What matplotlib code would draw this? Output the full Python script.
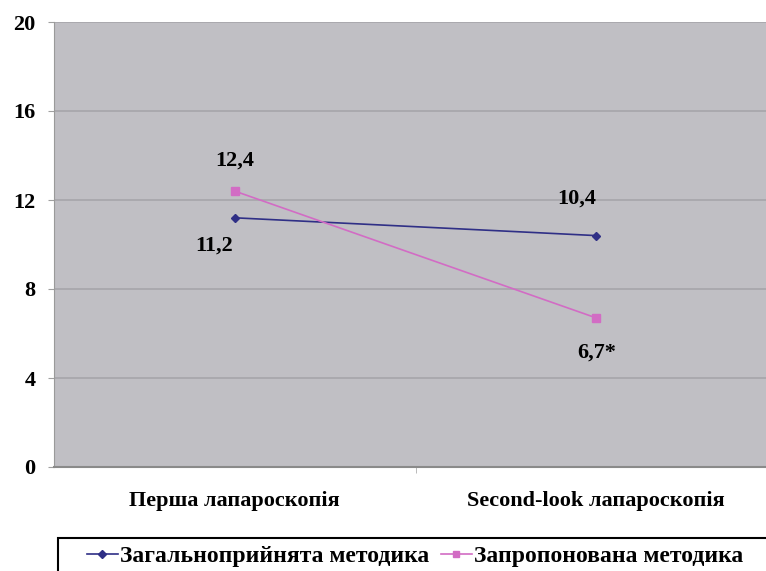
import matplotlib
matplotlib.use("Agg")
import matplotlib.pyplot as plt
from matplotlib.patches import Rectangle

categories = ["Перша лапароскопія", "Second-look лапароскопія"]
standard = [11.2, 10.4]
proposed = [12.4, 6.7]
standard_labels = ["11,2", "10,4"]
proposed_labels = ["12,4", "6,7*"]
series_names = ["Загальноприйнята методика", "Запропонована методика"]
y_ticks = [0, 4, 8, 12, 16, 20]

plt.rcParams["font.family"] = ["Liberation Serif", "DejaVu Serif"]
plt.rcParams["font.weight"] = "bold"

W, H = 766, 571
fig = plt.figure(figsize=(W / 100, H / 100), dpi=100)
ax = fig.add_axes([54 / W, (H - 467) / H, 723 / W, (467 - 22) / H])
ax.set_facecolor("#c0bfc4")

x = list(range(len(categories)))
ax.set_xlim(-0.5, len(categories) - 0.5)
ax.set_ylim(0, 20)

for t in y_ticks[1:]:
    ax.axhline(t, color="#a6a5aa", lw=1.2, zorder=1)

blue = "#2f2f86"
pink = "#d26cc4"
l1, = ax.plot(x, standard, color=blue, lw=1.2, marker="D", ms=4, zorder=3,
              label=series_names[0])
l2, = ax.plot(x, proposed, color=pink, lw=1.2, marker="s", ms=5.5, zorder=3,
              label=series_names[1])

fs = 16
# value labels next to each point
ax.annotate(proposed_labels[0], (x[0], proposed[0]), xytext=(0, 22),
            textcoords="offset points", ha="center", va="center",
            fontsize=fs, fontweight="bold")
ax.annotate(standard_labels[0], (x[0], standard[0]), xytext=(-15, -20),
            textcoords="offset points", ha="center", va="center",
            fontsize=fs, fontweight="bold")
ax.annotate(standard_labels[1], (x[1], standard[1]), xytext=(-14, 27),
            textcoords="offset points", ha="center", va="center",
            fontsize=fs, fontweight="bold")
ax.annotate(proposed_labels[1], (x[1], proposed[1]), xytext=(0, -25),
            textcoords="offset points", ha="center", va="center",
            fontsize=fs, fontweight="bold")

ax.set_yticks(y_ticks)
ax.set_yticklabels([str(t) for t in y_ticks], fontsize=fs, fontweight="bold")
ax.set_xticks(x)
ax.set_xticklabels(categories, fontsize=16, fontweight="bold")
ax.tick_params(axis="x", length=0, pad=17)
ax.tick_params(axis="y", length=4.5, color="#a0a0a0", pad=9)
ax.set_xticks([0.5], minor=True)
ax.tick_params(axis="x", which="minor", length=4.5, color="#b0b0b0")

for s in ["top", "right"]:
    ax.spines[s].set_visible(False)
ax.spines["left"].set_color("#9a9a9a")
ax.spines["bottom"].set_color("#8a8a8a")
ax.spines["bottom"].set_linewidth(1.5)

# legend box running past the right and bottom edges
fig.patches.append(Rectangle((58 / W, -0.2), 1.0, (1 - 538 / H) + 0.2,
                             transform=fig.transFigure, fill=False,
                             edgecolor="black", lw=1.5))
leg = fig.legend(handles=[l1, l2], loc="center left",
                 bbox_to_anchor=(87 / W, 1 - 556 / H), ncol=2,
                 fontsize=17, frameon=False, handlelength=1.3,
                 handletextpad=0.1, columnspacing=0.5, borderpad=0,
                 borderaxespad=0)
for t in leg.get_texts():
    t.set_fontweight("bold")
for h in leg.legend_handles:
    h.set_markersize(4)

fig.savefig("out.png", dpi=100)
